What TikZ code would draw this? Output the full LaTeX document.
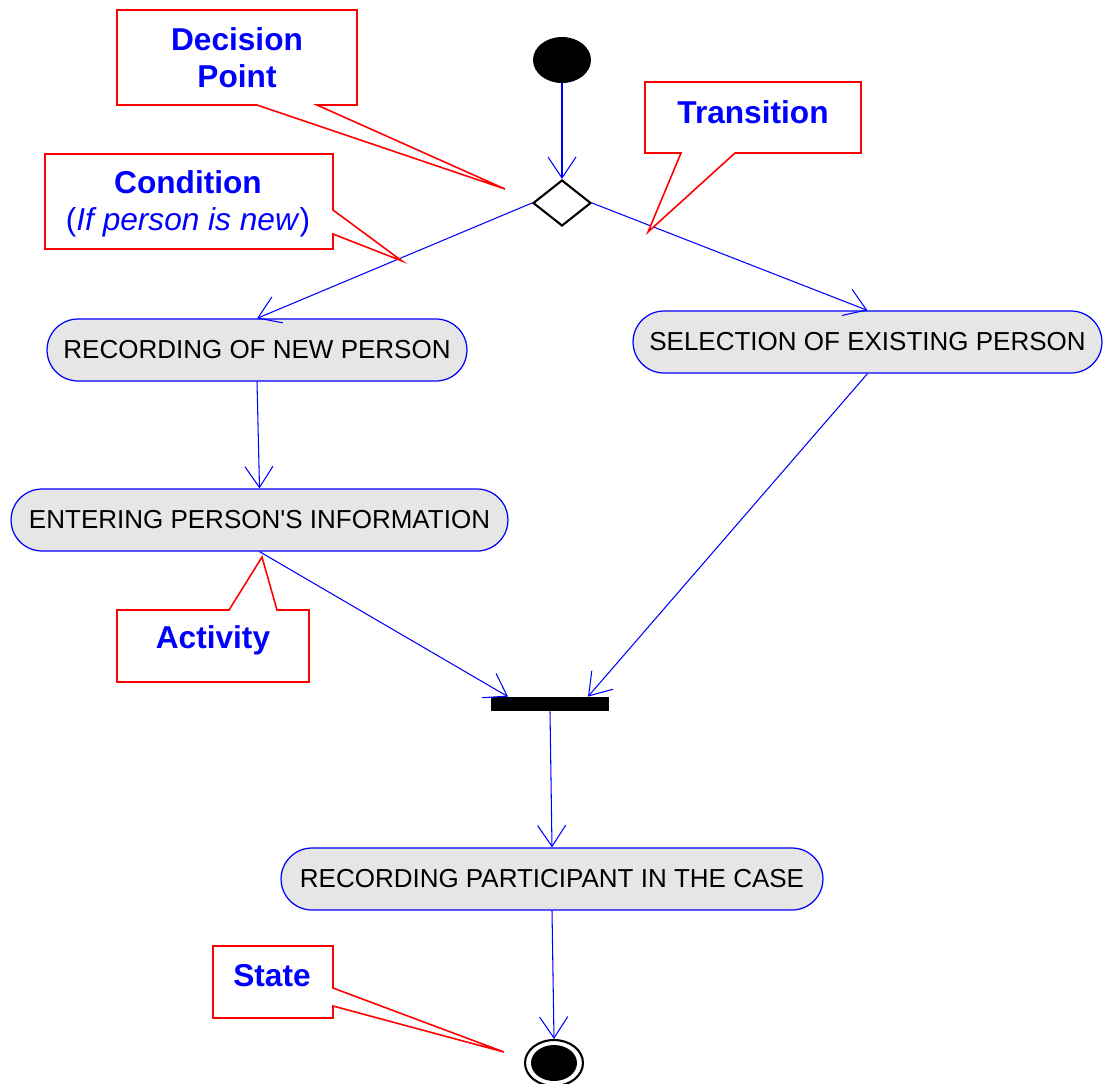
\documentclass[tikz,border=0pt]{standalone}
\usepackage{fontspec}
\setmainfont{Liberation Sans}
\usetikzlibrary{arrows.meta,shapes.geometric}

\definecolor{actfill}{HTML}{E6E6E6}
\definecolor{flowblue}{HTML}{0000FF}
\definecolor{notered}{HTML}{FF0000}

\tikzset{
  activity/.style={draw=flowblue, fill=actfill, line width=0.7pt,
    rounded corners=0.62cm, minimum height=1.24cm, inner sep=0pt,
    font=\fontsize{14.8}{17}\selectfont},
  flow/.style={draw=flowblue, line width=0.6pt,
    -{Straight Barb[length=12pt,width=16pt]}},
  note/.style={draw=notered, fill=white, line width=0.9pt, line join=miter},
  notetext/.style={text=flowblue, font=\fontsize{18}{21}\selectfont\bfseries,
    align=center, inner sep=0pt},
}

\begin{document}
\begin{tikzpicture}[x=0.02cm, y=-0.02cm]
  \useasboundingbox (0,0) rectangle (1103,1083);

  % ---- control nodes ----
  \node[ellipse, fill=black, minimum width=1.16cm, minimum height=0.92cm,
        inner sep=0pt] (start) at (562,60) {};
  \node[diamond, draw=black, line width=1.2pt, minimum width=1.16cm,
        minimum height=0.92cm, inner sep=0pt] (dec) at (562,203) {};
  \node[fill=black, minimum width=2.36cm, minimum height=0.28cm,
        inner sep=0pt] (fork) at (550,704) {};
  \node[ellipse, draw=black, line width=1.2pt, minimum width=1.16cm,
        minimum height=0.92cm, inner sep=0pt] (final) at (554,1063) {};
  \node[ellipse, fill=black, minimum width=0.92cm, minimum height=0.72cm,
        inner sep=0pt] (finaldot) at (final.center) {};

  % ---- activities ----
  \node[activity, minimum width=8.4cm] (rec) at (257,350)
       {RECORDING OF NEW PERSON};
  \node[activity, minimum width=9.38cm] (sel) at (867.5,342)
       {SELECTION OF EXISTING PERSON};
  \node[activity, minimum width=9.94cm] (ent) at (259.5,520)
       {ENTERING PERSON\textquotesingle S INFORMATION};
  \node[activity, minimum width=10.84cm] (part) at (552,879)
       {RECORDING PARTICIPANT IN THE CASE};

  % ---- transitions ----
  \coordinate (forkL) at ([xshift=-0.84cm]fork.north);
  \coordinate (forkR) at ([xshift=0.76cm]fork.north);
  \draw[flow] (start) -- (dec.north);
  \draw[flow] (dec.west) -- (rec.north);
  \draw[flow] (dec.east) -- (sel.north);
  \draw[flow] (rec.south) -- (ent.north);
  \draw[flow] (ent.south) -- (forkL);
  \draw[flow] (sel.south) -- (forkR);
  \draw[flow] (fork.south) -- (part.north);
  \draw[flow] (part.south) -- (final.north);

  % ---- callouts ----
  \draw[note] (117,10) -- (357,10) -- (357,105) -- (317,105) -- (505,189)
              -- (257,105) -- (117,105) -- cycle;
  \node[notetext] (tdec) at (237,58) {Decision\\Point};

  \draw[note] (645,82) -- (861,82) -- (861,153) -- (735,153) -- (648,232)
              -- (681,153) -- (645,153) -- cycle;
  \node[notetext] (ttrans) at (753,112) {Transition};

  \draw[note] (45,154) -- (333,154) -- (333,210) -- (402,261) -- (333,234)
              -- (333,249) -- (45,249) -- cycle;
  \node[notetext] (tcond) at (188,204)
       {Condition\\{\mdseries(\textit{If person is new})}};

  \draw[note] (117,610) -- (229,610) -- (262,557) -- (277,610) -- (309,610)
              -- (309,682) -- (117,682) -- cycle;
  \node[notetext] (tact) at (213,640) {Activity};

  \draw[note] (213,946) -- (333,946) -- (333,988) -- (504,1052) -- (333,1006)
              -- (333,1018) -- (213,1018) -- cycle;
  \node[notetext] (tstate) at (272,976) {State};
\end{tikzpicture}
\end{document}
